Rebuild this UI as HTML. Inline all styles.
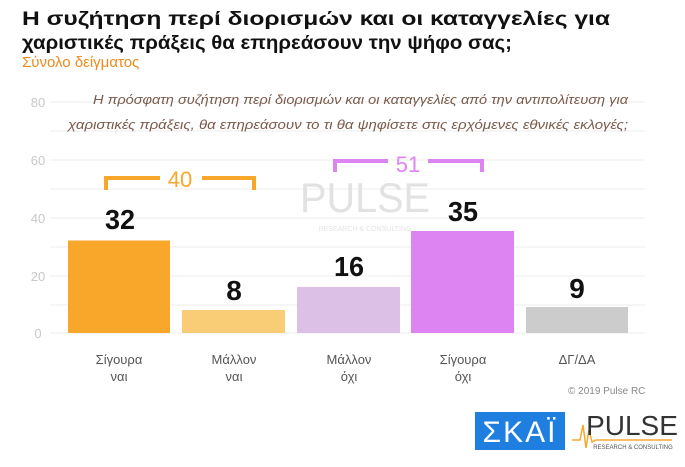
<!DOCTYPE html>
<html><head><meta charset="utf-8"><style>
body{margin:0;background:#fff;width:685px;height:462px;overflow:hidden;font-family:"Liberation Sans","DejaVu Sans",sans-serif}
</style></head><body>
<svg width="685" height="462" xmlns="http://www.w3.org/2000/svg" font-family="Liberation Sans, DejaVu Sans, sans-serif">
<text x="22" y="25" font-size="19" font-weight="bold" fill="#111" textLength="588" lengthAdjust="spacingAndGlyphs">Η συζήτηση περί διορισμών και οι καταγγελίες για</text>
<text x="22" y="49" font-size="19" font-weight="bold" fill="#111" textLength="490" lengthAdjust="spacingAndGlyphs">χαριστικές πράξεις θα επηρεάσουν την ψήφο σας;</text>
<text x="22" y="67" font-size="15" fill="#f08a1c">Σύνολο δείγματος</text>
<g stroke="#eeeeee" stroke-width="1">
<line x1="50" x2="645" y1="102" y2="102"/><line x1="50" x2="645" y1="131" y2="131"/><line x1="50" x2="645" y1="160" y2="160"/><line x1="50" x2="645" y1="189" y2="189"/><line x1="50" x2="645" y1="218" y2="218"/><line x1="50" x2="645" y1="247" y2="247"/><line x1="50" x2="645" y1="276" y2="276"/><line x1="50" x2="645" y1="305" y2="305"/><line x1="50" x2="645" y1="333" y2="333"/>
</g>
<g font-size="13" fill="#c8c8c8" text-anchor="middle">
<text x="38" y="107">80</text><text x="38" y="165">60</text><text x="38" y="223">40</text><text x="38" y="281">20</text><text x="38" y="338">0</text>
</g>
<g font-size="13" font-style="italic" fill="#7a5a4a" text-anchor="end">
<text x="628" y="104" textLength="535" lengthAdjust="spacingAndGlyphs">Η πρόσφατη συζήτηση περί διορισμών και οι καταγγελίες από την αντιπολίτευση για</text>
<text x="628" y="129" textLength="560" lengthAdjust="spacingAndGlyphs">χαριστικές πράξεις, θα επηρεάσουν το τι θα ψηφίσετε στις ερχόμενες εθνικές εκλογές;</text>
</g>
<text x="365" y="212" font-size="42" fill="#e2e2e2" text-anchor="middle" textLength="130" lengthAdjust="spacingAndGlyphs">PULSE</text>
<text x="365" y="231" font-size="7" fill="#e4e4e4" text-anchor="middle">RESEARCH &amp; CONSULTING</text>
<rect x="68" y="240.5" width="102" height="92.5" fill="#f9a72b"/>
<rect x="182" y="310" width="103" height="23" fill="#f9cd76"/>
<rect x="297" y="287" width="103" height="46" fill="#dcc0e6"/>
<rect x="411" y="231" width="103" height="102" fill="#de84f2"/>
<rect x="526" y="307" width="102" height="26" fill="#cccccc"/>
<g font-size="28" font-weight="bold" fill="#111" text-anchor="middle">
<text x="120" y="229" textLength="30" lengthAdjust="spacingAndGlyphs">32</text><text x="234" y="300">8</text><text x="349" y="276" textLength="30" lengthAdjust="spacingAndGlyphs">16</text><text x="463" y="221" textLength="30" lengthAdjust="spacingAndGlyphs">35</text><text x="577" y="298">9</text>
</g>
<g fill="none" stroke-width="4">
<path d="M106 190 V178 H160 M202 178 H254 V190" stroke="#f9a72b"/>
<path d="M335 172 V161 H388 M428 161 H482 V172" stroke="#de84f2"/>
</g>
<text x="180" y="187" font-size="22" fill="#f9a72b" text-anchor="middle">40</text>
<text x="408" y="172" font-size="22" fill="#de84f2" text-anchor="middle">51</text>
<g font-size="13" fill="#555" text-anchor="middle">
<text x="119" y="364">Σίγουρα</text><text x="119" y="381">ναι</text>
<text x="234" y="364">Μάλλον</text><text x="234" y="381">ναι</text>
<text x="349" y="364">Μάλλον</text><text x="349" y="381">όχι</text>
<text x="463" y="364">Σίγουρα</text><text x="463" y="381">όχι</text>
<text x="577" y="364">ΔΓ/ΔΑ</text>
</g>
<text x="568" y="394" font-size="10" fill="#888">© 2019 Pulse RC</text>
<rect x="475" y="412" width="90" height="38" fill="#1f7fe0"/>
<text x="520" y="442" font-size="30" fill="#fff" text-anchor="middle" letter-spacing="2">ΣΚΑΪ</text>
<path d="M572 440 L580 440 L583 425 L586 448 L589 430 L592 442 L596 440 L672 440" stroke="#f9a72b" stroke-width="1.5" fill="none"/>
<text x="632" y="435" font-size="28" fill="#333" text-anchor="middle">PULSE</text>
<text x="633" y="449" font-size="6" fill="#555" text-anchor="middle">RESEARCH &amp; CONSULTING</text>
</svg>
</body></html>
